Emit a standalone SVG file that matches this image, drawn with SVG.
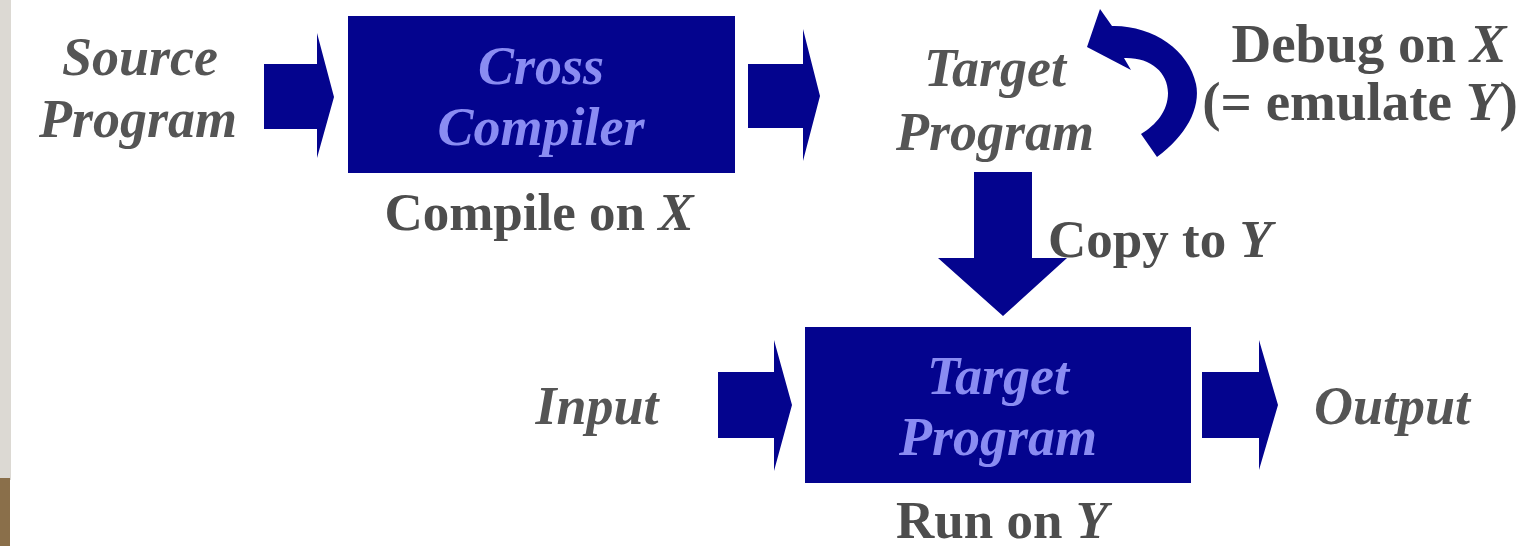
<svg xmlns="http://www.w3.org/2000/svg" width="1530" height="546" viewBox="0 0 1530 546">
  <style>
    .lbl { font-family: "Liberation Serif", "Times New Roman", serif; font-weight: bold; font-style: italic; font-size: 54px; fill: #555555; }
    .cap { font-family: "Liberation Serif", "Times New Roman", serif; font-weight: bold; font-size: 53px; fill: #4d4d4d; }
    .big { font-size: 55px; }
    .box { fill: #04048e; }
    .boxtxt { font-family: "Liberation Serif", "Times New Roman", serif; font-weight: bold; font-style: italic; font-size: 54px; fill: #8a8cf2; }
    .arrow { fill: #04048e; }
    .it { font-style: italic; }
  </style>

  <!-- page background and left edge strip -->
  <rect x="0" y="0" width="1530" height="546" fill="#ffffff"/>
  <rect x="0" y="0" width="11" height="480" fill="#dcd9d3"/>
  <rect x="0" y="478" width="10" height="68" fill="#8a6f4a"/>

  <!-- connectors -->
  <g id="connectors">
    <!-- source -> cross compiler -->
    <path class="arrow" d="M264,64 H317 V33 L334,97 L317,158 V129 H264 Z"/>
    <!-- cross compiler -> target program -->
    <path class="arrow" d="M748,64 H803 V29 L820,96 L803,161 V128 H748 Z"/>
    <!-- debug loop -->
    <path class="arrow" d="M1157,157 C1186,136 1201,108 1196,84 C1189,50 1152,25 1112,26 L1100,9 L1087,47 L1131,70 L1124,58 C1150,57 1168,72 1168,93 C1168,111 1156,125 1141,134 Z"/>
    <!-- copy to Y -->
    <path class="arrow" d="M974,172 H1032 V258 H1067 L1003,316 L938,258 H974 Z"/>
    <!-- input -> target program -->
    <path class="arrow" d="M718,372 H774 V340 L792,405 L774,471 V438 H718 Z"/>
    <!-- target program -> output -->
    <path class="arrow" d="M1202,372 H1259 V340 L1278,405 L1259,470 V438 H1202 Z"/>
  </g>

  <!-- source program -->
  <g id="source">
    <text class="lbl" x="140" y="75" text-anchor="middle">Source</text>
    <text class="lbl" x="138" y="137" text-anchor="middle">Program</text>
  </g>

  <!-- cross compiler -->
  <g id="cross-compiler">
    <rect class="box" x="348" y="16" width="387" height="157"/>
    <text class="boxtxt" x="541" y="84" text-anchor="middle">Cross</text>
    <text class="boxtxt" x="541" y="145" text-anchor="middle">Compiler</text>
    <text class="cap" x="539" y="230" text-anchor="middle">Compile on <tspan class="it">X</tspan></text>
  </g>

  <!-- target program (output of the compiler) -->
  <g id="target-file">
    <text class="lbl" x="995" y="86" text-anchor="middle">Target</text>
    <text class="lbl" x="995" y="150" text-anchor="middle">Program</text>
  </g>

  <!-- debug label -->
  <g id="debug">
    <text class="cap big" x="1369" y="62" text-anchor="middle">Debug on <tspan class="it">X</tspan></text>
    <text class="cap big" x="1360" y="120" text-anchor="middle">(= emulate  <tspan class="it">Y</tspan>)</text>
  </g>

  <!-- copy label -->
  <g id="copy">
    <text class="cap" x="1048" y="257">Copy to <tspan class="it">Y</tspan></text>
  </g>

  <!-- input -->
  <g id="input">
    <text class="lbl" x="597" y="424" text-anchor="middle">Input</text>
  </g>

  <!-- target program running on Y -->
  <g id="target-run">
    <rect class="box" x="805" y="327" width="386" height="156"/>
    <text class="boxtxt" x="998" y="394" text-anchor="middle">Target</text>
    <text class="boxtxt" x="998" y="455" text-anchor="middle">Program</text>
    <text class="cap" x="1002" y="538" text-anchor="middle">Run on <tspan class="it">Y</tspan></text>
  </g>

  <!-- output -->
  <g id="output">
    <text class="lbl" x="1392" y="424" text-anchor="middle">Output</text>
  </g>
</svg>
